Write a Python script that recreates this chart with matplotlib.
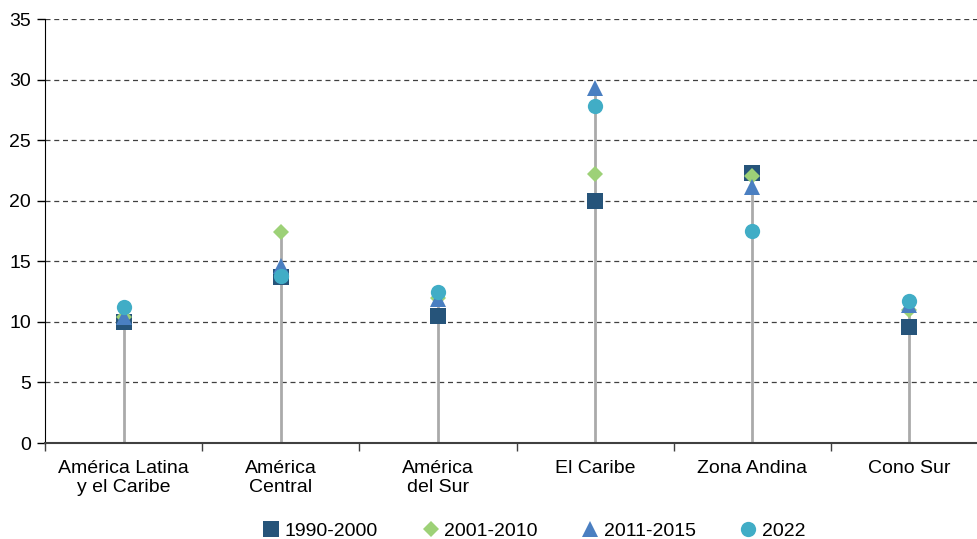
import numpy as np
import matplotlib
matplotlib.use("Agg")
from matplotlib import pyplot as plt

plt.rcParams['font.family'] = ['Liberation Sans', 'DejaVu Sans']

regiones = ["América Latina\ny el Caribe", "América\nCentral", "América\ndel Sur",
            "El Caribe", "Zona Andina", "Cono Sur"]
p1990_2000 = [10.0, 13.7, 10.5, 20.0, 22.25, 9.6]
p2001_2010 = [10.4, 17.4, 12.0, 22.2, 22.0, 11.0]
p2011_2015 = [10.4, 14.6, 11.9, 29.3, 21.1, 11.4]
p2022 = [11.25, 13.8, 12.45, 27.8, 17.5, 11.75]
yticks = [0, 5, 10, 15, 20, 25, 30, 35]

series = [
    ("1990-2000", p1990_2000, "s", "#26547a", 11.5),
    ("2001-2010", p2001_2010, "D", "#9dd177", 8),
    ("2011-2015", p2011_2015, "^", "#4a7fc1", 11),
    ("2022", p2022, "o", "#41adc6", 11),
]

fig = plt.figure(figsize=(9.77, 5.39), dpi=100)
ax = fig.add_axes([45/977, 1-443/539, 1-45/977, (443-19)/539])

x = np.arange(len(regiones))
tope = np.max(np.array([p1990_2000, p2001_2010, p2011_2015, p2022]), axis=0)
ax.vlines(x, 0, tope, color="#aaaaaa", lw=2, zorder=1)

for i, (nombre, vals, mk, col, ms) in enumerate(series):
    ax.plot(x, vals, linestyle="none", marker=mk, color=col, markersize=ms,
            markeredgewidth=0, label=nombre, zorder=3+i)

for y in yticks[1:]:
    ax.axhline(y, color="#404040", lw=0.9, ls=(0, (4, 3)), zorder=0)

ax.set_yticks(yticks)
ax.set_xticks(x)
ax.set_xticklabels(regiones, fontsize=14, linespacing=1.2)
ax.set_xticks(np.arange(-0.5, 5.0, 1), minor=True)
# limites despues de los ticks, si no set_xticks los agranda
ax.set_ylim(0, 35)
ax.set_xlim(-0.5, 5.43)
ax.tick_params(axis="x", which="major", length=0, pad=12)
ax.tick_params(axis="x", which="minor", length=6, color="#404040", width=1)
ax.tick_params(axis="y", labelsize=14, length=6, width=1, pad=4)

for s in ["top", "right"]:
    ax.spines[s].set_visible(False)
ax.spines["left"].set_color("black")
ax.spines["bottom"].set_color("#404040")
ax.spines["bottom"].set_linewidth(1.5)

fig.legend(loc="center", bbox_to_anchor=(0.545, 0.015), ncol=4, frameon=False,
           fontsize=14, handletextpad=0.1, columnspacing=2.1, handlelength=1.2)

plt.savefig("out.png", dpi=100)
